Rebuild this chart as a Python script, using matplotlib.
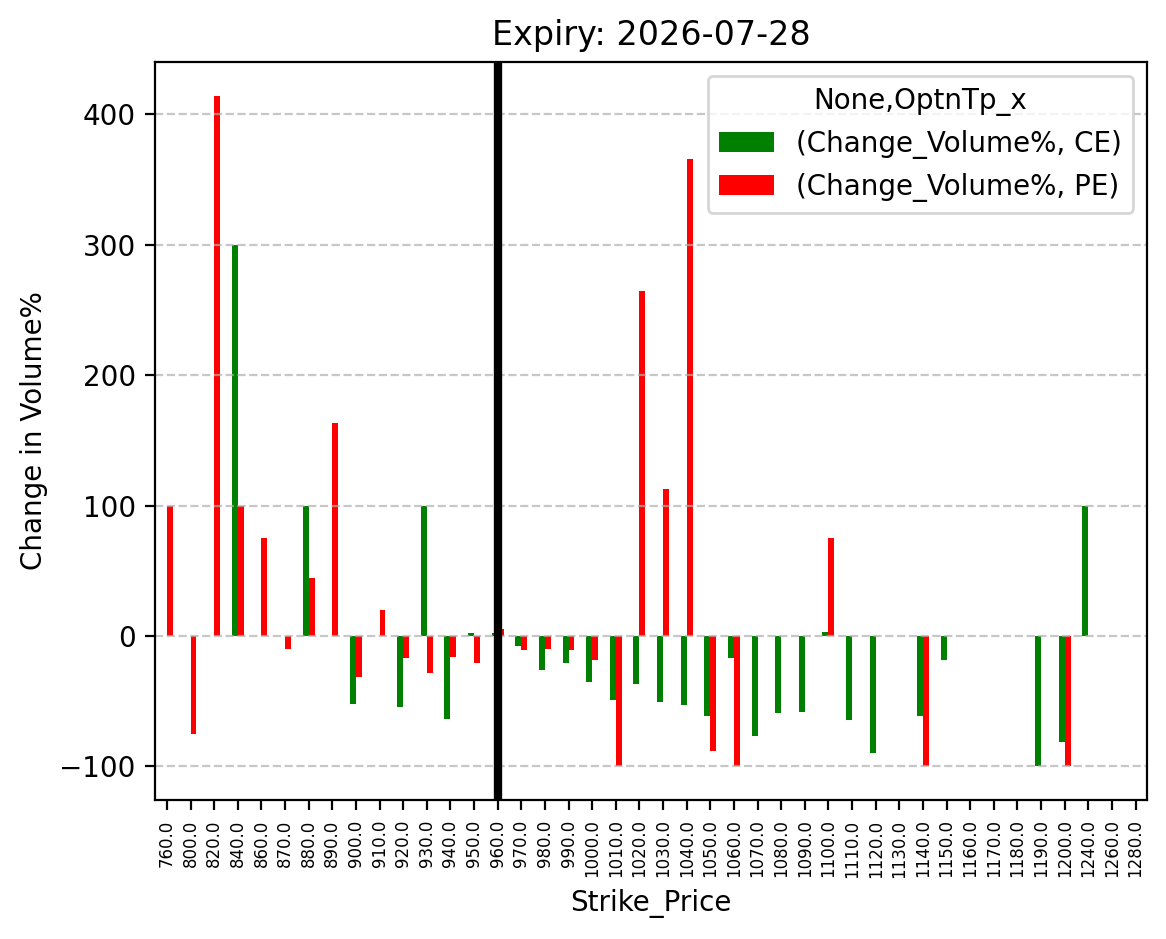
import numpy as np
import pandas as pd
import matplotlib
matplotlib.use("Agg")
import matplotlib.pyplot as plt

# strike prices and % change in volume (NaN = no bar)
strikes = [760, 800, 820, 840, 860, 870, 880, 890, 900, 910, 920, 930, 940, 950,
           960, 970, 980, 990, 1000, 1010, 1020, 1030, 1040, 1050, 1060, 1070,
           1080, 1090, 1100, 1110, 1120, 1130, 1140, 1150, 1160, 1170, 1180,
           1190, 1200, 1240, 1260, 1280]
nan = np.nan
ce_change = [nan, nan, nan, 300, nan, nan, 100, nan, -52.4, nan, -54.5, 100, -63.6, 2.2,
             2.0, -8.0, -26.4, -21.0, -35.4, -49.0, -36.8, -50.5, -53.0, -61.4, -17.0, -76.9,
             -59.0, -58.5, 3.0, -64.0, -90.0, nan, -61.0, -18.0, nan, nan, nan,
             -100, -81.0, 100, nan, nan]
pe_change = [100, -75, 414.3, 100, 75, -10, 44.4, 163.6, -31.4, 20, -16.7, -28.6, -16.2, -21.0,
             5.0, -10.8, -10.0, -10.8, -18.4, -100, 264.6, 113.0, 366.0, -88.0, -100, nan,
             nan, nan, 75, nan, nan, nan, -100, nan, nan, nan, nan,
             nan, -100, nan, nan, nan]
expiry = "2026-07-28"
spot_strike = 960

cols = pd.MultiIndex.from_tuples([("Change_Volume%", "CE"), ("Change_Volume%", "PE")],
                                 names=[None, "OptnTp_x"])
df = pd.DataFrame(np.column_stack([ce_change, pe_change]),
                  index=pd.Index(np.array(strikes, dtype=float), name="Strike_Price"),
                  columns=cols)

fig, ax = plt.subplots(figsize=(5.83, 4.695), dpi=200)
df.plot(kind="bar", ax=ax, color=["green", "red"])

ax.axvline(x=strikes.index(spot_strike), color="black", linewidth=3)
ax.grid(axis="y", linestyle="--", alpha=0.7)
ax.set_title("Expiry: " + expiry)
ax.set_ylabel("Change in Volume%")
ax.set_xlabel("Strike_Price")
ax.tick_params(axis="x", labelsize=6)

plt.subplots_adjust(left=0.133, right=0.984, top=0.934, bottom=0.148)
plt.savefig("out.png", dpi=200)
